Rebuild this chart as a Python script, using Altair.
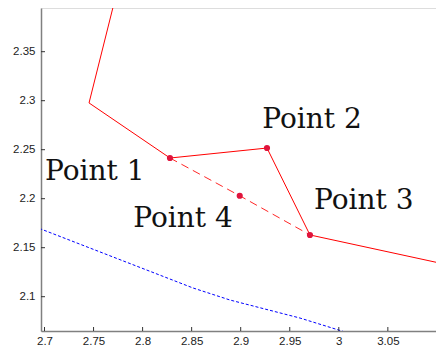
import altair as alt
import pandas as pd

# ---- data ----
red_x = [2.776, 2.7454, 2.8279, 2.9268, 2.9706, 3.12]
red_y = [2.42, 2.2977, 2.2415, 2.2517, 2.1630, 2.1306]

dash_x = [2.8279, 2.899, 2.9706]
dash_y = [2.2415, 2.203, 2.1630]

pt_x = [2.8279, 2.9268, 2.9706, 2.899]
pt_y = [2.2415, 2.2517, 2.1630, 2.203]

blue_x = [2.69, 2.8514, 2.8891, 2.9605, 3.0063]
blue_y = [2.1715, 2.1089, 2.0966, 2.0782, 2.0640]

labels = ["Point 1", "Point 2", "Point 3", "Point 4"]
label_x = [2.7005, 2.9220, 2.9747, 2.7905]
label_y = [2.2191, 2.2718, 2.1895, 2.1714]

x_ticks = [2.7, 2.75, 2.8, 2.85, 2.9, 2.95, 3.0, 3.05, 3.1]
y_ticks = [2.1, 2.15, 2.2, 2.25, 2.3, 2.35]

W, H = 395, 323
x_domain = [2.69643, 2.69643 + W / 981.0]
y_domain = [2.0650, 2.39459]

red_df = pd.DataFrame({"x": red_x, "y": red_y, "i": range(len(red_x))})
dash_df = pd.DataFrame({"x": dash_x, "y": dash_y, "i": range(len(dash_x))})
pt_df = pd.DataFrame({"x": pt_x, "y": pt_y})
blue_df = pd.DataFrame({"x": blue_x, "y": blue_y, "i": range(len(blue_x))})
lab_df = pd.DataFrame({"x": label_x, "y": label_y, "t": labels})
xt_df = pd.DataFrame({"x": x_ticks})
yt_df = pd.DataFrame({"y": y_ticks})

xax = alt.Axis(values=x_ticks, format="~g", title=None, grid=False, ticks=False,
               labelFont="Liberation Sans", labelFontSize=11.5, labelColor="#222",
               labelPadding=4, domainColor="#808080", domainWidth=1.5)
yax = alt.Axis(values=y_ticks, format="~g", title=None, grid=False, ticks=False,
               labelFont="Liberation Sans", labelFontSize=11.5, labelColor="#222",
               labelPadding=6, domainColor="#808080", domainWidth=1.5)

X = alt.X("x:Q", scale=alt.Scale(domain=x_domain, nice=False, zero=False), axis=xax)
Y = alt.Y("y:Q", scale=alt.Scale(domain=y_domain, nice=False, zero=False), axis=yax)

blue = alt.Chart(blue_df).mark_line(color="#0000ff", strokeWidth=1, strokeDash=[3, 2], clip=True).encode(
    x=X, y=Y, order="i:Q")
red = alt.Chart(red_df).mark_line(color="#ff0000", strokeWidth=1, clip=True).encode(
    x=X, y=Y, order="i:Q")
dash = alt.Chart(dash_df).mark_line(color="#ff0000", strokeWidth=1, strokeDash=[8, 5], opacity=0.85, clip=True).encode(
    x=X, y=Y, order="i:Q")
pts = alt.Chart(pt_df).mark_circle(color="#e0143c", size=38, opacity=1).encode(x=X, y=Y)
txt = alt.Chart(lab_df).mark_text(font="DejaVu Serif", fontSize=28, align="left",
                                  baseline="alphabetic", color="#111").encode(x=X, y=Y, text="t:N")
xt = alt.Chart(xt_df).mark_rule(color="#333", strokeWidth=1).encode(
    x=X, y=alt.value(H), y2=alt.value(H - 4))
yt = alt.Chart(yt_df).mark_rule(color="#333", strokeWidth=1).encode(
    y=Y, x=alt.value(0), x2=alt.value(4))

chart = alt.layer(blue, red, dash, pts, txt, xt, yt).properties(
    width=W, height=H, autosize="none",
    padding={"left": 33, "top": 0, "right": 0, "bottom": 14},
).configure_view(stroke=None).configure(background="white")

chart.save("out.html", embed_options={"renderer": "svg", "actions": False})
